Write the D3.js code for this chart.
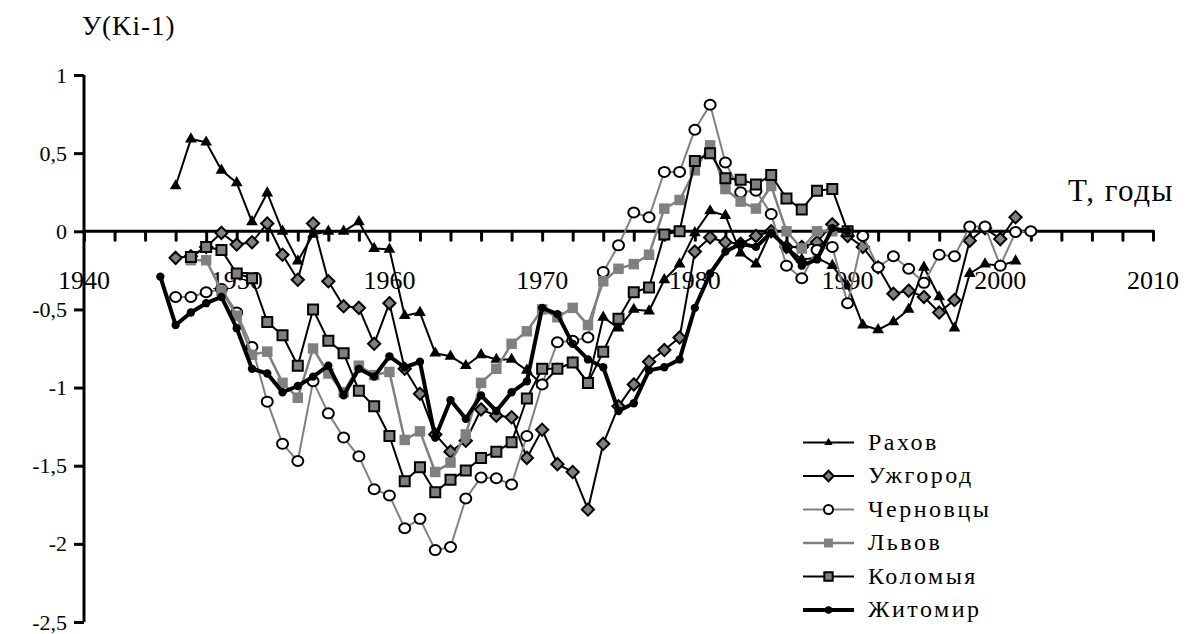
<!DOCTYPE html>
<html>
<head>
<meta charset="utf-8">
<script src="https://cdn.jsdelivr.net/npm/d3@7"></script>
<style>
body { margin: 0; background: #fff; }
svg text { fill: #000; }
</style>
</head>
<body>
<div id="chart"></div>
<script>
// values, one per year starting at the given year (null = no point)
var rakhovStart = 1946;
var rakhov = [0.29, 0.59, 0.57, 0.39, 0.31, 0.06, 0.245, 0.0, -0.19, -0.02,
    0.0, 0.0, 0.06, -0.11, -0.115, -0.54, -0.52, -0.78, -0.80, -0.86,
    -0.79, -0.82, -0.82, -0.89, -0.98, -0.88, -0.84, -0.97, -0.55, -0.62,
    -0.50, -0.51, -0.31, -0.21, -0.01, 0.13, 0.10, -0.14, -0.21, 0.0,
    -0.10, -0.18, -0.17, -0.22, -0.35, -0.60, -0.63, -0.58, -0.50, -0.23,
    -0.42, -0.62, -0.27, -0.21, -0.22, -0.19];

var uzhgorodStart = 1946;
var uzhgorod = [-0.17, -0.16, -0.10, -0.01, -0.085, -0.07, 0.05, -0.15, -0.31, 0.05,
    -0.32, -0.48, -0.49, -0.72, -0.46, -0.88, -1.04, -1.30, -1.41, -1.34,
    -1.14, -1.18, -1.19, -1.45, -1.27, -1.49, -1.54, -1.78, -1.36, -1.12,
    -0.98, -0.835, -0.76, -0.68, -0.13, -0.04, -0.07, -0.08, -0.03, 0.0,
    -0.10, -0.10, -0.07, 0.045, -0.03, -0.10, -0.23, -0.40, -0.38, -0.42,
    -0.52, -0.44, -0.06, 0.02, -0.05, 0.09];

var chernovtsyStart = 1946;
var chernovtsy = [-0.42, -0.42, -0.39, -0.37, -0.52, -0.74, -1.09, -1.36, -1.47, -0.96,
    -1.165, -1.32, -1.44, -1.65, -1.69, -1.90, -1.84, -2.04, -2.02, -1.71,
    -1.575, -1.58, -1.62, -1.31, -0.98, -0.71, -0.70, -0.68, -0.26, -0.09,
    0.12, 0.09, 0.38, 0.38, 0.65, 0.81, 0.44, 0.25, 0.26, 0.11,
    -0.22, -0.30, -0.12, -0.10, -0.46, -0.03, -0.23, -0.16, -0.24, -0.33,
    -0.15, -0.16, 0.03, 0.03, -0.22, -0.005, 0.0];

var lvovStart = 1947;
var lvov = [-0.185, -0.185, -0.38, -0.54, -0.79, -0.77, -0.97, -1.065, -0.75, -0.91,
    -1.03, -0.86, -0.92, -0.90, -1.335, -1.28, -1.54, -1.48, -1.30, -0.97,
    -0.88, -0.72, -0.64, -0.50, -0.55, -0.49, -0.60, -0.32, -0.24, -0.21,
    -0.15, 0.145, 0.20, 0.39, 0.55, 0.27, 0.19, 0.145, 0.29, 0.0,
    -0.11, 0.0, 0.0];

var kolomyyaStart = 1947;
var kolomyya = [-0.165, -0.10, -0.12, -0.27, -0.30, -0.58, -0.665, -0.86, -0.50, -0.70,
    -0.78, -1.02, -1.12, -1.31, -1.60, -1.51, -1.67, -1.59, -1.53, -1.45,
    -1.41, -1.35, -1.07, -0.88, -0.88, -0.84, -0.97, -0.77, -0.56, -0.39,
    -0.36, -0.02, 0.0, 0.45, 0.50, 0.34, 0.33, 0.30, 0.36, 0.21,
    0.14, 0.26, 0.27, 0.0];

var zhitomirStart = 1945;
var zhitomir = [-0.29, -0.60, -0.52, -0.46, -0.42, -0.62, -0.88, -0.91, -1.03, -0.99,
    -0.93, -0.86, -1.05, -0.88, -0.93, -0.80, -0.87, -0.835, -1.32, -1.08,
    -1.20, -1.05, -1.15, -1.03, -0.96, -0.49, -0.53, -0.72, -0.82, -0.87,
    -1.15, -1.10, -0.89, -0.87, -0.82, -0.49, -0.27, -0.13, -0.08, -0.10,
    -0.01, -0.10, -0.22, -0.18, 0.02, 0.0];

var seriesNames = ["Рахов", "Ужгород", "Черновцы", "Львов", "Коломыя", "Житомир"];
var yTicks = [1, 0.5, 0, -0.5, -1, -1.5, -2, -2.5];
var xLabels = [1940, 1950, 1960, 1970, 1980, 1990, 2000, 2010];

var width = 1194, height = 634;
var serif = "'Liberation Serif', 'DejaVu Serif', 'Times New Roman', serif";

var svg = d3.select("#chart")
    .append("svg")
    .attr("width", width)
    .attr("height", height)
    .attr("font-family", serif);

var x = d3.scaleLinear().domain([1940, 2010]).range([84, 1153]);
var y = d3.scaleLinear().domain([-2.5, 1]).range([622, 75]);

// rotated square for the diamond markers
var diamond = {
    draw: function (ctx, size) {
        var r = Math.sqrt(size) / 2;
        ctx.moveTo(0, -r); ctx.lineTo(r, 0); ctx.lineTo(0, r); ctx.lineTo(-r, 0); ctx.closePath();
    }
};

var styles = [
    {stroke: "#000", width: 2, sym: d3.symbolTriangle, size: 60, fill: "#000", mstroke: "none", lsize: 30},
    {stroke: "#000", width: 2, sym: diamond, size: 150, fill: "#808080", mstroke: "#000", lsize: 110},
    {stroke: "#808080", width: 2, sym: "ellipse", size: 0, fill: "#fff", mstroke: "#000", lsize: 0},
    {stroke: "#808080", width: 2.5, sym: d3.symbolSquare, size: 110, fill: "#808080", mstroke: "none", lsize: 80},
    {stroke: "#000", width: 2, sym: d3.symbolSquare, size: 100, fill: "#808080", mstroke: "#000", lsize: 70},
    {stroke: "#000", width: 4, sym: d3.symbolCircle, size: 55, fill: "#000", mstroke: "none", lsize: 45}
];

var allSeries = [
    [rakhovStart, rakhov], [uzhgorodStart, uzhgorod], [chernovtsyStart, chernovtsy],
    [lvovStart, lvov], [kolomyyaStart, kolomyya], [zhitomirStart, zhitomir]
];

// Y axis
var yAxis = svg.append("g")
    .attr("class", "y axis")
    .attr("transform", "translate(" + x(1940) + ",0)")
    .call(d3.axisLeft(y).tickValues(yTicks).tickSize(10).tickPadding(7)
        .tickFormat(function (d) { return String(d).replace(".", ","); }));
yAxis.attr("font-family", serif);
yAxis.select(".domain").attr("stroke-width", 3).attr("d", "M0," + y(1) + "V" + y(-2.5));
yAxis.selectAll(".tick line").attr("stroke-width", 3);
yAxis.selectAll(".tick text").attr("font-size", "22px").attr("fill", "#000");

// X axis (crosses at 0), ticks every 2 years, labels every 10
var xTickValues = d3.range(1940, 2011, 2);
var xAxis = svg.append("g")
    .attr("class", "x axis")
    .attr("transform", "translate(0," + y(0) + ")")
    .call(d3.axisBottom(x).tickValues(xTickValues).tickSize(9).tickFormat(""));
xAxis.select(".domain").attr("stroke-width", 3).attr("d", "M" + x(1940) + ",0H" + x(2010));
xAxis.selectAll(".tick line").attr("stroke-width", 3).attr("stroke-linecap", "round");

svg.append("g").selectAll("text")
    .data(xLabels)
    .enter()
    .append("text")
    .attr("x", function (d) { return x(d); })
    .attr("y", 289)
    .attr("text-anchor", "middle")
    .attr("font-size", "26px")
    .text(function (d) { return d; });

// axis titles
svg.append("text").attr("x", 82).attr("y", 35).attr("font-size", "27px")
    .attr("letter-spacing", "1px").text("У(Ki-1)");
svg.append("text").attr("x", 1068).attr("y", 201).attr("font-size", "31px")
    .attr("letter-spacing", "1.5px").text("T, годы");

// draws the marker of series i at (px, py)
function drawMarker(g, i, px, py, legend) {
    var s = styles[i];
    if (s.sym === "ellipse") {
        g.append("ellipse")
            .attr("cx", px).attr("cy", py)
            .attr("rx", legend ? 4.5 : 5.5).attr("ry", legend ? 4.5 : 5)
            .attr("fill", s.fill).attr("stroke", s.mstroke).attr("stroke-width", 2);
    } else {
        g.append("path")
            .attr("transform", "translate(" + px + "," + py + ")")
            .attr("d", d3.symbol().type(s.sym).size(legend ? s.lsize : s.size)())
            .attr("fill", s.fill)
            .attr("stroke", s.mstroke)
            .attr("stroke-width", 2);
    }
}

var line = d3.line()
    .defined(function (d) { return d.v !== null; })
    .x(function (d) { return x(d.year); })
    .y(function (d) { return y(d.v); });

allSeries.forEach(function (ser, i) {
    var pts = ser[1].map(function (v, j) { return {year: ser[0] + j, v: v}; });
    var g = svg.append("g").attr("class", "series");
    g.append("path")
        .datum(pts)
        .attr("d", line)
        .attr("fill", "none")
        .attr("stroke", styles[i].stroke)
        .attr("stroke-width", styles[i].width)
        .attr("stroke-linejoin", "round");
    pts.forEach(function (d) {
        if (d.v !== null) drawMarker(g, i, x(d.year), y(d.v), false);
    });
});

// legend
var legend = svg.append("g").attr("class", "legend");
seriesNames.forEach(function (name, i) {
    var ly = 442.5 + i * 33.5;
    legend.append("line")
        .attr("x1", 803).attr("x2", 854)
        .attr("y1", ly).attr("y2", ly)
        .attr("stroke", styles[i].stroke)
        .attr("stroke-width", styles[i].width);
    drawMarker(legend, i, 828.5, ly, true);
    legend.append("text")
        .attr("x", 868).attr("y", ly + 7)
        .attr("font-size", "24px")
        .attr("letter-spacing", "2.5px")
        .text(name);
});
</script>
</body>
</html>
